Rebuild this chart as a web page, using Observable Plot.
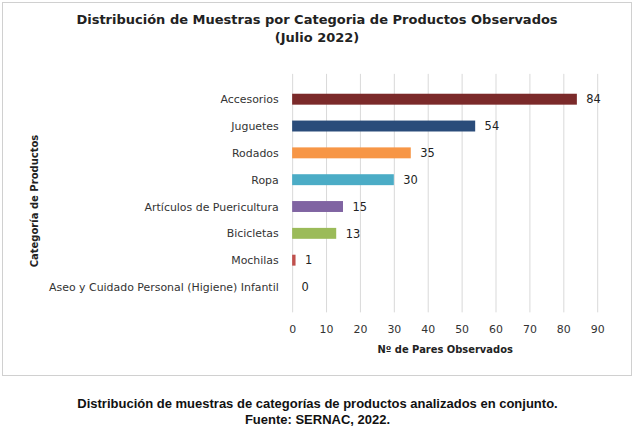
<!DOCTYPE html>
<html><head><meta charset="utf-8">
<script src="https://cdn.jsdelivr.net/npm/d3@7"></script>
<script src="https://cdn.jsdelivr.net/npm/@observablehq/plot@0.6"></script>
<style>
body{margin:0;background:#fff;font-family:"Liberation Sans",Arial,sans-serif;}
#box{position:absolute;left:2px;top:2px;width:628px;height:372px;border:1px solid #d0d0d0;}
.t{text-align:center;font-weight:bold;font-size:13px;color:#222;font-family:"DejaVu Sans",sans-serif;}
#chart{position:absolute;left:-3px;top:49px;}
#ylab{position:absolute;left:31px;top:198px;transform:translate(-50%,-50%) rotate(-90deg);white-space:nowrap;font-weight:bold;font-size:10px;color:#222;font-family:"DejaVu Sans",sans-serif;}
#cap{position:absolute;top:396px;width:635px;text-align:center;font-weight:bold;font-size:13px;line-height:16px;color:#111;}
</style></head><body>
<div id="box">
<div class="t" style="margin-top:9px">Distribución de Muestras por Categoria de Productos Observados</div>
<div class="t" style="margin-top:3px">(Julio 2022)</div>
<div id="chart"></div>
<div id="ylab">Categoría de Productos</div>
</div>
<div id="cap">Distribución de muestras de categorías de productos analizados en conjunto.<br>Fuente: SERNAC, 2022.</div>
<script>
const categories=["Accesorios","Juguetes","Rodados","Ropa","Artículos de Puericultura","Bicicletas","Mochilas","Aseo y Cuidado Personal (Higiene) Infantil"];
const values=[84,54,35,30,15,13,1,0];
const colors=["#7b2a2a","#2a4c7a","#f79646","#4bacc6","#8064a2","#9bbb59","#c0504d","#999999"];
const xTicks=[0,10,20,30,40,50,60,70,80,90];
const data=categories.map((c,i)=>({c,v:values[i],col:colors[i]}));
const p=Plot.plot({
 width:635,height:318,marginLeft:294,marginRight:34,marginTop:22,marginBottom:56,
 style:{fontFamily:"'DejaVu Sans',sans-serif",fontSize:"11px",color:"#333"},
 x:{domain:[0,90]},
 y:{domain:categories,padding:0.58},
 marks:[
  Plot.gridX(xTicks,{stroke:"#d9d9d9",strokeOpacity:1}),
  Plot.axisX(xTicks,{anchor:"bottom",label:null,tickSize:0,tickPadding:12}),
  Plot.axisY({anchor:"left",label:null,tickSize:0,tickPadding:14}),
  Plot.barX(data,{x:"v",y:"c",fill:"col"}),
  Plot.text(data,{x:"v",y:"c",text:d=>String(d.v),textAnchor:"start",dx:9,fill:"#222",fontSize:11.5}),
  Plot.text(["Nº de Pares Observados"],{frameAnchor:"bottom",dy:40,fontWeight:"bold",fontSize:10,fill:"#222"})
 ]
});
document.getElementById("chart").append(p);
</script></body></html>
